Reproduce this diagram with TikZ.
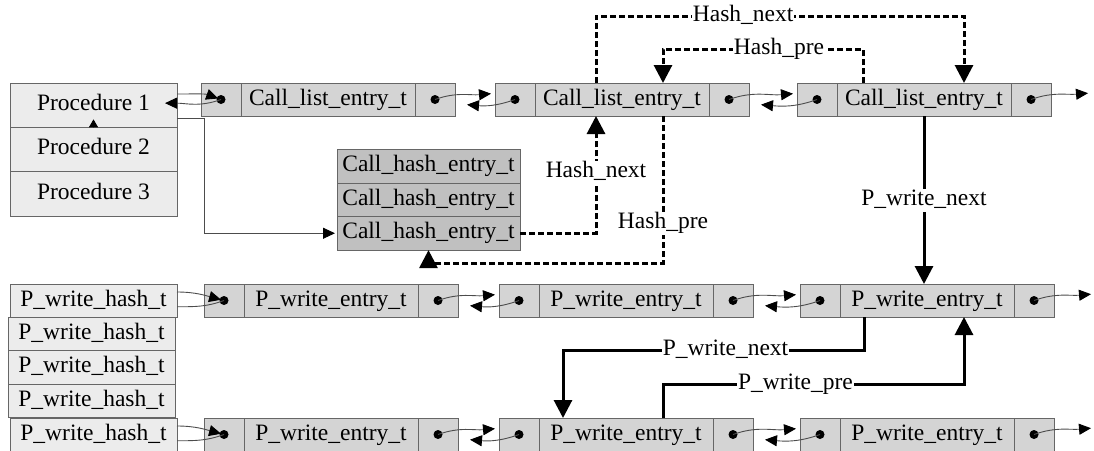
\documentclass[tikz,border=0pt]{standalone}
\usepackage{fontspec}
\setmainfont{Liberation Serif}
\usetikzlibrary{arrows.meta}

\definecolor{listgray}{RGB}{212,212,212}
\definecolor{hashgray}{RGB}{192,192,192}
\definecolor{procgray}{RGB}{236,236,236}

\tikzset{
  cell/.style={draw=black!60, fill=listgray, minimum height=33pt, inner sep=0pt,
    outer sep=0pt, text height=16pt, text depth=5pt, anchor=north west},
  procbox/.style={cell, fill=procgray, minimum width=167pt, minimum height=33.5pt},
  hashbox/.style={cell, fill=hashgray, minimum width=183pt, minimum height=33.7pt},
  thinline/.style={draw=black!70, line width=0.9pt},
  link/.style={thinline, -{Triangle[length=12pt,width=11pt,color=black]}, shorten >=2pt},
  dashline/.style={line width=3pt, dash pattern=on 6pt off 3pt,
    -{Triangle[length=18pt,width=18pt]}},
  boldline/.style={line width=3pt, -{Triangle[length=18pt,width=18pt]}},
  lbl/.style={fill=white, inner sep=1pt, text height=16pt, text depth=5pt}
}

% one list entry: #1 name, #2 x, #3 y, #4 text
\newcommand{\listentry}[4]{%
  \node[cell, minimum width=40pt] (#1l) at (#2,#3) {};
  \node[cell, minimum width=174pt, anchor=west] (#1m) at (#1l.east) {#4};
  \node[cell, minimum width=40pt, anchor=west] (#1r) at (#1m.east) {};
  \fill (#1l.center) circle (4.5pt) (#1r.center) circle (4.5pt);
}
% next / prev curves between two entries
\newcommand{\twoway}[2]{%
  \draw[link] (#1r.center) to[out=20,in=185] ([xshift=-2pt,yshift=6pt]#2l.west);
  \draw[link] (#2l.center) to[out=200,in=-5] ([xshift=10pt,yshift=-5pt]#1r.east);
}

\begin{document}
\begin{tikzpicture}[x=1pt,y=-1pt,font=\fontsize{23.5}{26}\selectfont]
  \useasboundingbox (0,0) rectangle (1094,450);

  % procedure table
  \foreach \i in {1,2,3}
    \node[procbox, minimum height=44.3pt] (proc\i) at (10,{83+44.3*(\i-1)}) {Procedure \i};

  % call hash table
  \foreach \i in {1,2,3}
    \node[hashbox] (hash\i) at (337,{149+33.7*(\i-1)}) {Call\_hash\_entry\_t};

  % p_write hash table
  \node[procbox] (ph1) at (10,284) {P\_write\_hash\_t};
  \foreach \i/\y in {2/317,3/350.5,4/384}
    \node[procbox] (ph\i) at (8,\y) {P\_write\_hash\_t};
  \node[procbox] (ph5) at (10,418) {P\_write\_hash\_t};

  % lists
  \listentry{cl1}{201}{83}{Call\_list\_entry\_t}
  \listentry{cl2}{495}{83}{Call\_list\_entry\_t}
  \listentry{cl3}{797}{83}{Call\_list\_entry\_t}
  \listentry{pa}{204}{284}{P\_write\_entry\_t}
  \listentry{pb}{499}{284}{P\_write\_entry\_t}
  \listentry{pc}{800}{284}{P\_write\_entry\_t}
  \listentry{pd}{204}{418}{P\_write\_entry\_t}
  \listentry{pe}{499}{418}{P\_write\_entry\_t}
  \listentry{pf}{800}{418}{P\_write\_entry\_t}

  \coordinate (clend) at (1090,93);
  \coordinate (pcend) at (1093,294);
  \coordinate (pfend) at (1093,428);

  \twoway{cl1}{cl2}
  \twoway{cl2}{cl3}
  \twoway{pa}{pb}
  \twoway{pb}{pc}
  \twoway{pd}{pe}
  \twoway{pe}{pf}
  \draw[link] (cl3r.center) to[out=20,in=185] (clend);
  \draw[link] (pcr.center) to[out=20,in=185] (pcend);
  \draw[link] (pfr.center) to[out=20,in=185] (pfend);

  % heads of the lists
  \draw[link, shorten >=3pt] ([yshift=-11pt]proc1.north east) to[out=0,in=160] (cl1l.center);
  \draw[link] (cl1l.center) to[out=200,in=0] ([xshift=-14pt,yshift=2pt]proc1.east);
  \draw[thinline, -{Triangle[length=8pt,width=9pt,color=black]}] (proc1.south) -- ++(0,-8);
  \draw[link] ([yshift=9pt]proc1.south east) -- ++(27,0) |- (hash3.west);
  \draw[link, shorten >=3pt] ([yshift=-8pt]ph1.north east) to[out=0,in=165] (pal.center);
  \draw[thinline] (pal.center) to[out=200,in=0] ([yshift=-6pt]ph1.east);
  \draw[link, shorten >=3pt] ([yshift=-8pt]ph5.north east) to[out=0,in=165] (pdl.center);
  \draw[thinline] (pdl.center) to[out=200,in=0] ([yshift=-6pt]ph5.east);

  % hash links
  \draw[dashline] ([xshift=-26pt]cl2m.north) -- ++(0,-67)
    -| node[lbl, pos=0.2]{Hash\_next} ([xshift=40pt]cl3m.north);
  \draw[dashline] ([xshift=-61pt]cl3m.north) -- ++(0,-34)
    -| node[lbl, pos=0.21]{Hash\_pre} ([xshift=41pt]cl2m.north);
  \draw[dashline] (hash3.east) -| node[lbl, pos=0.76]{Hash\_next} ([xshift=-26pt]cl2m.south);
  \draw[dashline] ([xshift=41pt]cl2m.south) -- node[lbl, pos=0.73]{Hash\_pre} ++(0,147)
    -| (hash3.south);

  % p_write links
  \draw[boldline] (cl3m.south) -- node[lbl]{P\_write\_next} (cl3m.south |- pcm.north);
  \draw[boldline] ([xshift=-63pt]pcm.south) -- ++(0,33)
    -| node[lbl, pos=0.23]{P\_write\_next} ([xshift=-63pt]pem.north);
  \draw[boldline] ([xshift=37pt]pem.north) -- ++(0,-34)
    -| node[lbl, pos=0.22]{P\_write\_pre} ([xshift=37pt]pcm.south);
\end{tikzpicture}
\end{document}
